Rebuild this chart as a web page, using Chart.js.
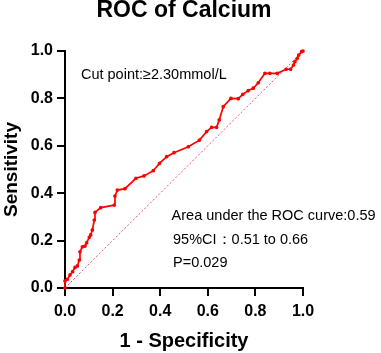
<!DOCTYPE html>
<html>
<head>
<meta charset="utf-8">
<script src="https://cdn.jsdelivr.net/npm/chart.js@4"></script>
<style>
  html, body { margin: 0; padding: 0; background: #fff; }
  #wrap { width: 381px; height: 353px; }
</style>
</head>
<body>
<div id="wrap"><canvas id="roc"></canvas></div>
<script>
// ROC curve points (1 - specificity, sensitivity)
const rocX = [0, 0, 0.01, 0.021, 0.032, 0.042, 0.052, 0.06, 0.063, 0.073, 0.084, 0.091, 0.102, 0.108, 0.115, 0.123, 0.126,
  0.15, 0.207, 0.21, 0.22, 0.252, 0.298, 0.332, 0.371, 0.397, 0.427, 0.458, 0.518, 0.565, 0.595, 0.616, 0.637, 0.648,
  0.665, 0.697, 0.728, 0.747, 0.77, 0.791, 0.812, 0.84, 0.861, 0.892, 0.929, 0.948, 0.96, 0.966, 0.976, 0.982, 0.994, 1.0];
const rocY = [0, 0.03, 0.037, 0.055, 0.069, 0.087, 0.093, 0.118, 0.153, 0.174, 0.177, 0.191, 0.214, 0.224, 0.245, 0.287, 0.319,
  0.339, 0.35, 0.388, 0.413, 0.419, 0.463, 0.473, 0.495, 0.526, 0.554, 0.571, 0.596, 0.624, 0.66, 0.678, 0.678, 0.709,
  0.765, 0.8, 0.799, 0.817, 0.833, 0.843, 0.866, 0.906, 0.906, 0.906, 0.923, 0.923, 0.941, 0.955, 0.969, 0.983, 0.997, 1.0];
const refX = [0, 1];
const refY = [0, 1];
const tickValues = [0, 0.2, 0.4, 0.6, 0.8, 1.0];

const FONT = '"Liberation Sans", Arial, Helvetica, sans-serif';
const TITLE = 'ROC of Calcium';

// text notes, anchored in data coordinates
const notes = [
  { text: 'Cut point:\u22652.30mmol/L', x: 0.067, y: 0.899 },
  { text: 'Area under the ROC curve:0.59', x: 0.448, y: 0.304 },
  { text: '95%CI\uFF1A0.51 to 0.66', x: 0.454, y: 0.203 },
  { text: 'P=0.029', x: 0.454, y: 0.105 },
];

// title is centred over the plot area (not the whole canvas), so it is drawn here
const notesPlugin = {
  id: 'notes',
  afterDatasetsDraw(chart) {
    const { ctx, chartArea, scales: { x, y } } = chart;
    ctx.save();
    ctx.fillStyle = '#000';
    ctx.textBaseline = 'middle';
    ctx.textAlign = 'center';
    ctx.font = 'bold 23px ' + FONT;
    ctx.fillText(TITLE, (chartArea.left + chartArea.right) / 2, 11);
    ctx.font = '14.5px ' + FONT;
    ctx.textAlign = 'left';
    notes.forEach(n => ctx.fillText(n.text, x.getPixelForValue(n.x), y.getPixelForValue(n.y)));
    ctx.restore();
  }
};

const axisCommon = {
  type: 'linear', min: 0, max: 1,
  afterBuildTicks: s => { s.ticks = tickValues.map(v => ({ value: v })); },
  grid: { drawOnChartArea: false, drawTicks: true, tickLength: 8, color: '#000', lineWidth: 2 },
  border: { color: '#000', width: 2 },
};

new Chart(document.getElementById('roc'), {
  type: 'scatter',
  data: {
    datasets: [
      {
        label: 'ROC',
        data: rocX.map((v, i) => ({ x: v, y: rocY[i] })),
        showLine: true, borderColor: '#ff0000', backgroundColor: '#ff0000',
        borderWidth: 1.7, pointRadius: 1, pointHoverRadius: 1, tension: 0, clip: false,
      },
      {
        label: 'Reference',
        data: refX.map((v, i) => ({ x: v, y: refY[i] })),
        showLine: true, borderColor: '#ee4a72', borderWidth: 1, borderDash: [2, 2],
        pointRadius: 0, clip: false,
      },
    ]
  },
  options: {
    responsive: true, maintainAspectRatio: false, animation: false,
    layout: { padding: { top: 51, right: 78, bottom: 0, left: 0 } },
    plugins: {
      legend: { display: false },
      tooltip: { enabled: false },
      title: { display: false },
    },
    scales: {
      x: { ...axisCommon,
        afterFit: s => { s.height = 65; },
        ticks: { color: '#000', padding: 6, maxRotation: 0, font: { family: FONT, size: 16, weight: 'bold' },
          callback: v => v.toFixed(1) },
        title: { display: true, text: '1 - Specificity', color: '#000', padding: 0,
          font: { family: FONT, size: 20, weight: 'bold', lineHeight: 1.2 } } },
      y: { ...axisCommon,
        afterFit: s => { s.width = 65; },
        ticks: { color: '#000', padding: 4, font: { family: FONT, size: 16, weight: 'bold' },
          callback: v => v.toFixed(1) },
        title: { display: true, text: 'Sensitivity', color: '#000', padding: 0,
          font: { family: FONT, size: 19, weight: 'bold', lineHeight: 1.2 } } },
    }
  },
  plugins: [notesPlugin]
});
</script>
</body>
</html>
